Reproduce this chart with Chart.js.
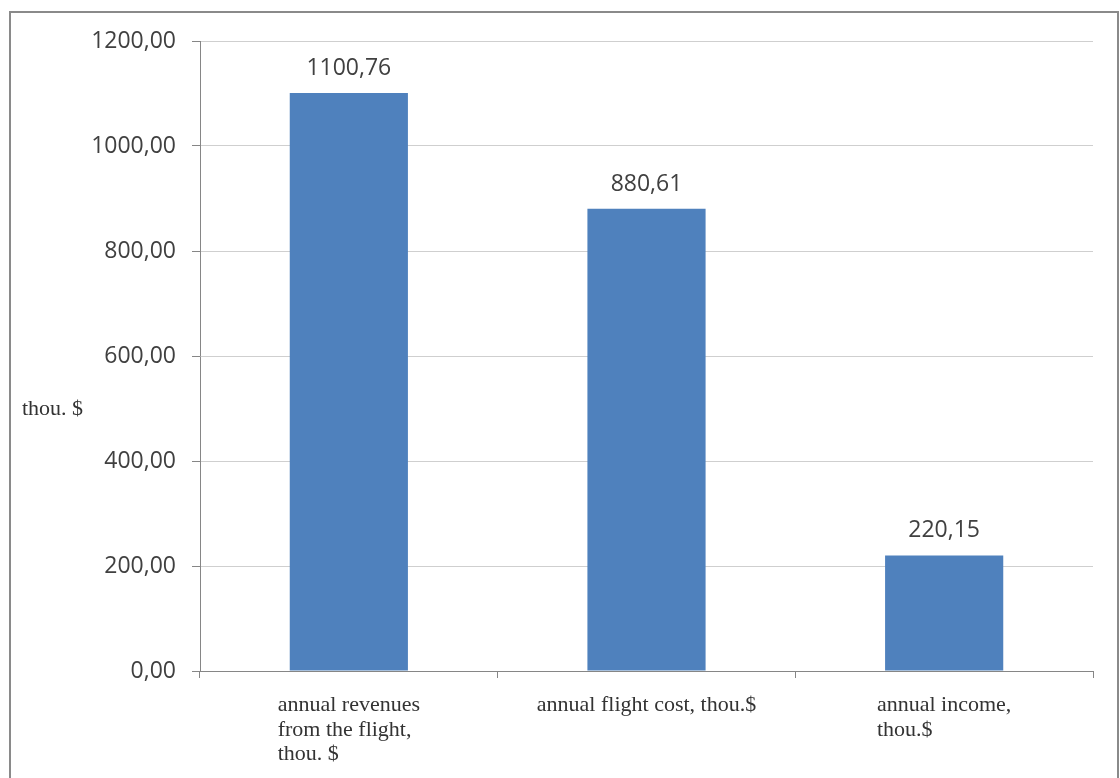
<!DOCTYPE html>
<html><head><meta charset="utf-8">
<script src="https://cdn.jsdelivr.net/npm/chart.js@4.4.0/dist/chart.umd.min.js"></script>
<style>
html,body{margin:0;padding:0;background:#fff;width:1120px;height:778px;overflow:hidden}
#frame{position:absolute;left:9px;top:11px;width:1106px;height:800px;border:2px solid #8a8a8a;border-bottom:none;}
#wrap{position:absolute;left:0;top:0;width:1120px;height:778px}
</style></head><body>
<div id="frame"></div>
<div id="wrap"><canvas id="c" width="1120" height="778"></canvas></div>
<script>
const categories = [
  ["annual revenues", "from the flight,", "thou. $"],
  ["annual flight cost, thou.$"],
  ["annual income,", "thou.$"]
];
const values = [1100.76, 880.61, 220.15];
const yTicks = [0, 200, 400, 600, 800, 1000, 1200];
const yAxisLabel = "thou. $";

const fmt = v => Number(v).toFixed(2).replace('.', ',');

const textPlugin = {
  id: 'texts',
  afterDraw(chart) {
    const ctx = chart.ctx;
    ctx.save();
    const meta = chart.getDatasetMeta(0);
    ctx.font = '23px "Open Sans"';
    ctx.fillStyle = '#404040';
    ctx.textAlign = 'center';
    ctx.textBaseline = 'alphabetic';
    meta.data.forEach((bar, i) => ctx.fillText(fmt(values[i]), bar.x, bar.y - 18));

    ctx.font = '22px "Liberation Serif"';
    ctx.fillStyle = '#333333';
    ctx.textAlign = 'left';
    const xs = chart.scales.x;
    categories.forEach((lines, i) => {
      const cx = xs.getPixelForValue(i);
      const w = Math.max(...lines.map(l => ctx.measureText(l).width));
      lines.forEach((l, j) => ctx.fillText(l, cx - w / 2, xs.top + 40 + j * 24.5));
    });
    ctx.fillText(yAxisLabel, 22, 415);
    ctx.restore();
  }
};

new Chart(document.getElementById('c'), {
  type: 'bar',
  data: {
    labels: categories,
    datasets: [{
      data: values,
      backgroundColor: '#4F81BD',
      borderWidth: 0,
      categoryPercentage: 1.0,
      barPercentage: 0.397
    }]
  },
  options: {
    responsive: false,
    animation: false,
    devicePixelRatio: 1,
    layout: { padding: { top: 41, right: 27, left: 0, bottom: 0 } },
    plugins: { legend: { display: false }, tooltip: { enabled: false } },
    scales: {
      x: {
        grid: { display: true, drawOnChartArea: false, drawTicks: true, tickLength: 7, color: '#868686', offset: true },
        border: { display: true, color: '#868686', width: 1 },
        ticks: { color: 'rgba(0,0,0,0)', font: { family: 'Liberation Serif', size: 22 } },
        afterFit(s) { s.height = 107; }
      },
      y: {
        min: 0, max: 1200,
        afterBuildTicks(s) { s.ticks = yTicks.map(v => ({ value: v })); },
        grid: { color: '#cfcfcf', tickColor: '#868686', tickLength: 8, drawTicks: true },
        border: { display: true, color: '#868686', width: 1 },
        ticks: { padding: 16, font: { family: 'Open Sans', size: 23 }, color: '#404040', callback: v => fmt(v) },
        afterFit(s) { s.width = 200; }
      }
    }
  },
  plugins: [textPlugin]
});
</script>
</body></html>
